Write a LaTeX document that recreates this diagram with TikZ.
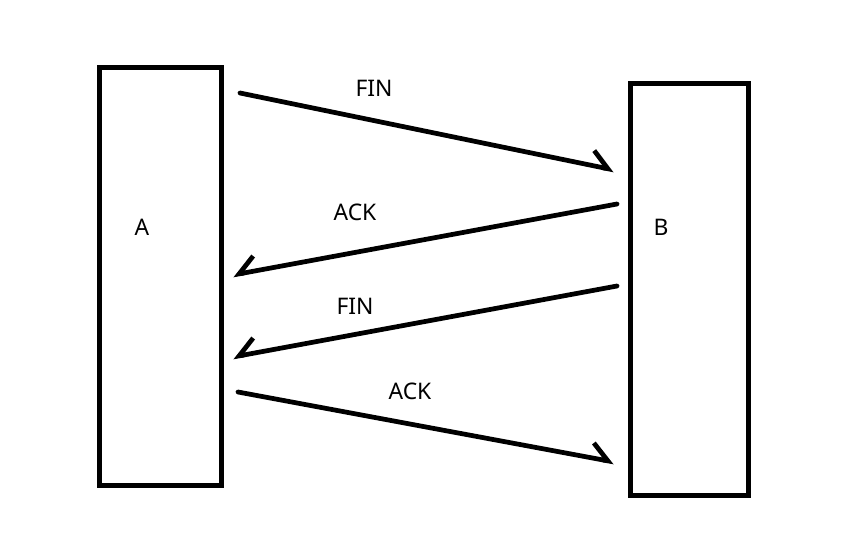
\documentclass[tikz,border=0pt]{standalone}
\usepackage{fontspec}
\setmainfont{Noto Sans}
\usetikzlibrary{arrows.meta}

\tikzset{
  hostbox/.style={draw, line width=2.7pt, line join=miter, minimum width=#1},
  msg/.style={line width=2.7pt, line cap=round, line join=round},
  tagtext/.style={font=\fontsize{13}{15}\selectfont},
  halfhead/.style={-{Straight Barb[#1, length=3.4mm, width=6mm, line width=2.7pt]}},
}

\begin{document}
\begin{tikzpicture}[x=0.02cm, y=-0.02cm]
  \useasboundingbox (0,0) rectangle (841,544);

  % Hosts
  \node[hostbox=2.43cm, minimum height=8.35cm] (boxA) at (160.5,276.5) {};
  \node[hostbox=2.35cm, minimum height=8.23cm] (boxB) at (689.5,289.5) {};
  \node[tagtext] (nameA) at (142,227) {A};
  \node[tagtext] (nameB) at (661,227) {B};

  % End points of the messages
  \coordinate (finAs) at (240,93);   \coordinate (finAe) at (614,170);
  \coordinate (ackBs) at (617,204);  \coordinate (ackBe) at (233,275);
  \coordinate (finBs) at (617,286);  \coordinate (finBe) at (233,357);
  \coordinate (ackAs) at (238,392);  \coordinate (ackAe) at (614,462);

  % Messages
  \draw[msg, halfhead=left] (finAs) -- (finAe);
  \draw[msg, halfhead=right] (ackBs) -- (ackBe);
  \draw[msg, halfhead=right] (finBs) -- (finBe);
  \draw[msg, halfhead=left] (ackAs) -- (ackAe);

  \node[tagtext] (finA) at (374,88) {FIN};
  \node[tagtext] (ackB) at (355,212) {ACK};
  \node[tagtext] (finB) at (355,306) {FIN};
  \node[tagtext] (ackA) at (410,391) {ACK};
\end{tikzpicture}
\end{document}
